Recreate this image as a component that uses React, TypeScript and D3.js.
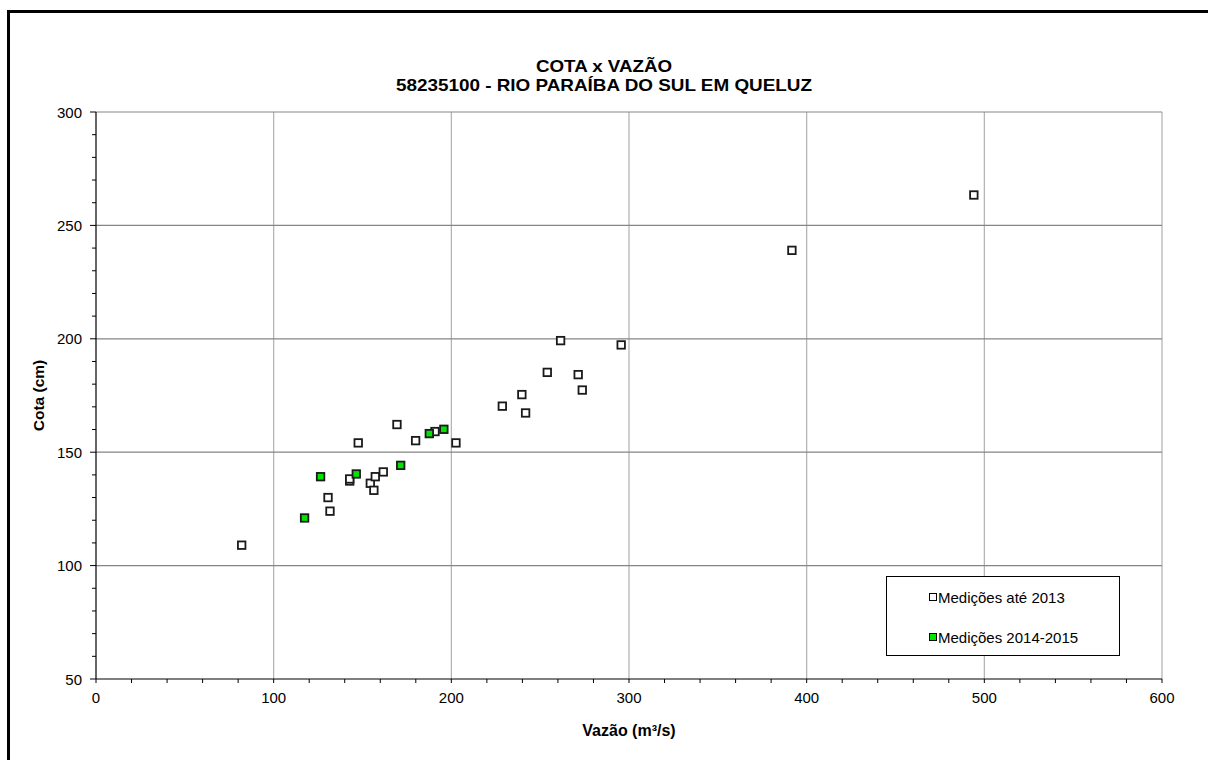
import * as d3 from "d3";

// Medições até 2013 (vazão m³/s, cota cm)
const oldVazao = [82, 131.7, 130.6, 142.8, 142.8, 154.4, 156.4, 157.2, 161.7, 147.6, 169.4, 179.9, 190.8, 202.6, 228.7, 239.7, 241.8, 254, 261.5, 271.4, 273.7, 295.6, 391.7, 494.1];
const oldCota = [109, 124, 130, 137.3, 138.2, 136.3, 133.2, 139.2, 141.3, 154.1, 162.2, 155.1, 159.1, 154.1, 170.3, 175.4, 167.3, 185.2, 199.2, 184.2, 177.4, 197.3, 239, 263.4];

// Medições 2014-2015
const newVazao = [117.4, 126.4, 146.5, 171.5, 187.6, 195.8];
const newCota = [121, 139.2, 140.4, 144.2, 158.2, 160.1];

const xTicks = [0, 100, 200, 300, 400, 500, 600];
const yTicks = [50, 100, 150, 200, 250, 300];
const legendLabels = ["Medições até 2013", "Medições 2014-2015"];

const W = 1208;
const H = 760;
const left = 96;
const right = 1162;
const top = 112;
const bottom = 679;
const font = "'Liberation Sans', Arial, sans-serif";
const green = "#00e600";

export default function App() {
  const x = d3.scaleLinear().domain([0, 600]).range([left, right]);
  const y = d3.scaleLinear().domain([50, 300]).range([bottom, top]);
  const xMinor = d3.range(0, 601, 20);
  const yMinor = d3.range(50, 301, 10);
  const sz = 7.5;

  const oldPts = oldVazao.map((v, i) => [v, oldCota[i]]);
  const newPts = newVazao.map((v, i) => [v, newCota[i]]);

  return (
    <svg width={W} height={H} style={{ position: "absolute", left: 0, top: 0, background: "#fff" }} fontFamily={font}>
      <rect x={0} y={0} width={W} height={H} fill="#fff" />
      {/* moldura */}
      <path d={`M8.5,${H} V11.5 H${W}`} fill="none" stroke="#000" strokeWidth={3} />

      {/* título */}
      <text x={604} y={72} textAnchor="middle" fontSize={16.5} fontWeight="bold" textLength={136} lengthAdjust="spacingAndGlyphs">COTA x VAZÃO</text>
      <text x={604} y={91} textAnchor="middle" fontSize={16.5} fontWeight="bold" textLength={416} lengthAdjust="spacingAndGlyphs">58235100 - RIO PARAÍBA DO SUL EM QUELUZ</text>

      {/* grade */}
      {xTicks.slice(1).map((t) => (
        <line key={"gx" + t} x1={x(t)} x2={x(t)} y1={top} y2={bottom} stroke="#b0b0b0" strokeWidth={1.2} />
      ))}
      {yTicks.slice(1).map((t) => (
        <line key={"gy" + t} x1={left} x2={right} y1={y(t)} y2={y(t)} stroke="#858585" strokeWidth={1.2} />
      ))}

      {/* eixos */}
      <line x1={left} x2={left} y1={top} y2={bottom} stroke="#000" strokeWidth={1.2} />
      <line x1={left} x2={right} y1={bottom} y2={bottom} stroke="#000" strokeWidth={1.2} />
      {xMinor.map((t) => (
        <line key={"tx" + t} x1={x(t)} x2={x(t)} y1={bottom} y2={bottom + 4} stroke="#000" strokeWidth={1} />
      ))}
      {yMinor.map((t) => (
        <line key={"ty" + t} x1={left - (t % 50 === 0 ? 6 : 4)} x2={left} y1={y(t)} y2={y(t)} stroke="#000" strokeWidth={1} />
      ))}
      {xTicks.map((t) => (
        <text key={"lx" + t} x={x(t)} y={703} textAnchor="middle" fontSize={15}>{t}</text>
      ))}
      {yTicks.map((t) => (
        <text key={"ly" + t} x={82} y={y(t) + 5.5} textAnchor="end" fontSize={15}>{t}</text>
      ))}

      <text x={629} y={736} textAnchor="middle" fontSize={16} fontWeight="bold">Vazão (m³/s)</text>
      <text transform={`translate(44,${(top + bottom) / 2}) rotate(-90)`} textAnchor="middle" fontSize={15.5} fontWeight="bold">Cota (cm)</text>

      {/* pontos */}
      {oldPts.map(([v, c], i) => (
        <rect key={"o" + i} x={x(v) - sz / 2} y={y(c) - sz / 2} width={sz} height={sz} fill="#fff" stroke="#1a1a1a" strokeWidth={1.8} />
      ))}
      {newPts.map(([v, c], i) => (
        <rect key={"n" + i} x={x(v) - sz / 2} y={y(c) - sz / 2} width={sz} height={sz} fill={green} stroke="#1a1a1a" strokeWidth={1.8} />
      ))}

      {/* legenda */}
      <rect x={886.5} y={576.5} width={233} height={79} fill="#fff" stroke="#000" strokeWidth={1} />
      {legendLabels.map((l, i) => (
        <g key={l} transform={`translate(0,${597 + i * 40})`}>
          <rect x={929.5} y={-3.5} width={7} height={7} fill={i === 0 ? "#fff" : green} stroke="#000" strokeWidth={1} />
          <text x={938} y={5.5} fontSize={15}>{l}</text>
        </g>
      ))}
    </svg>
  );
}
